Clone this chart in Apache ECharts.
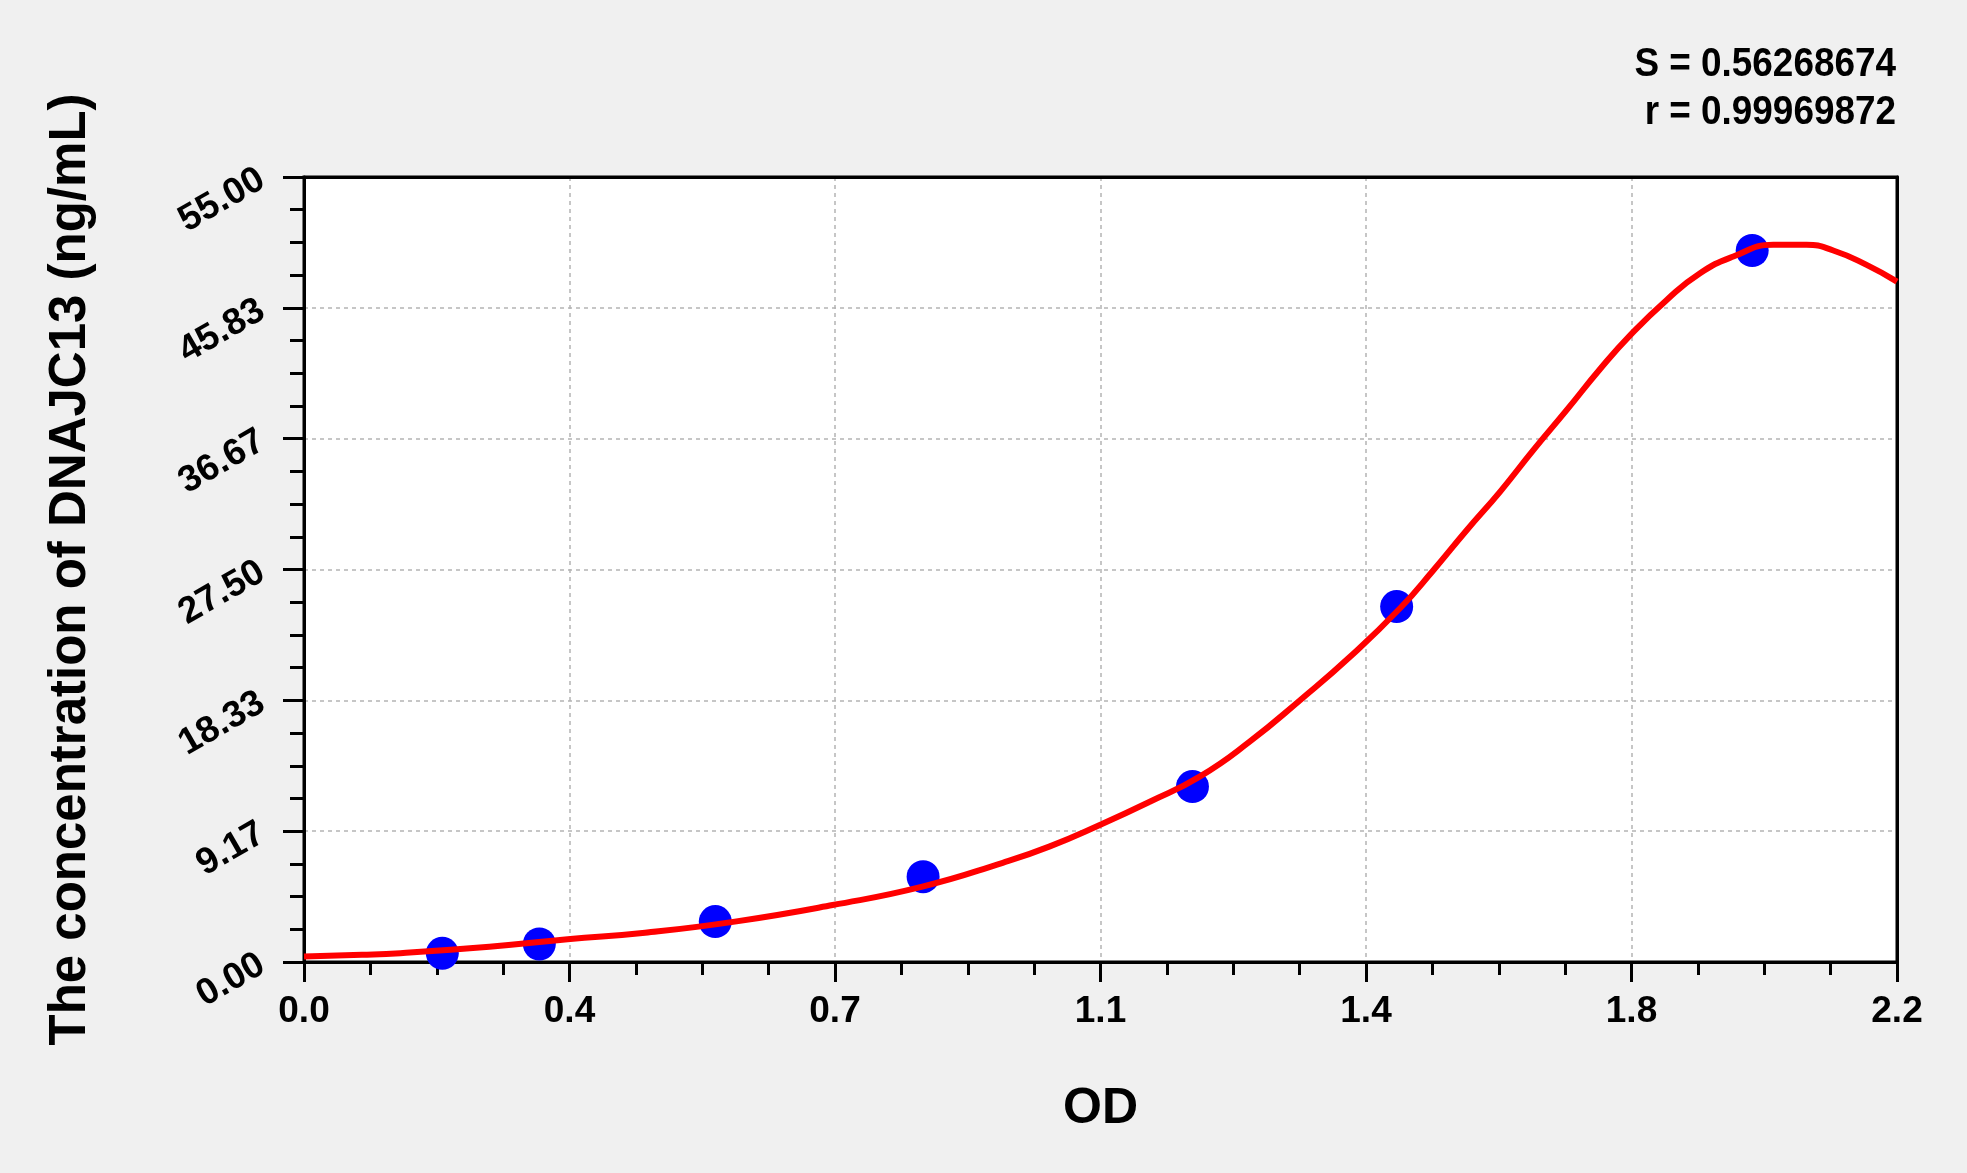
<!DOCTYPE html>
<html>
<head>
<meta charset="utf-8">
<script src="https://cdn.jsdelivr.net/npm/echarts@6/dist/echarts.min.js"></script>
<style>
html,body{margin:0;padding:0;background:#f0f0f0;}
#c{width:1967px;height:1173px;}
</style>
</head>
<body>
<div id="c"></div>
<script>
// Standard points (OD, concentration)
const pointOD = [0.191, 0.325, 0.568, 0.855, 1.227, 1.509, 2.000];
const pointConc = [0.61, 1.26, 2.83, 5.98, 12.29, 24.90, 49.85];

// Fitted curve
const curveOD = [0.000, 0.080, 0.133, 0.256, 0.364, 0.471, 0.595, 0.730, 0.854, 0.965, 1.030, 1.099, 1.168, 1.237, 1.306, 1.376, 1.445, 1.514, 1.560, 1.606, 1.652, 1.698, 1.744, 1.790, 1.832, 1.882, 1.928, 1.974, 2.029, 2.075, 2.112, 2.158, 2.200];
const curveConc = [0.38, 0.50, 0.62, 1.07, 1.59, 2.05, 2.83, 3.99, 5.28, 6.95, 8.10, 9.60, 11.23, 12.99, 15.44, 18.36, 21.40, 24.80, 27.47, 30.27, 32.96, 35.88, 38.68, 41.55, 43.94, 46.39, 48.26, 49.43, 50.25, 50.25, 49.85, 48.84, 47.67];

const xTickLabels = ['0.0', '0.4', '0.7', '1.1', '1.4', '1.8', '2.2'];
const yTickLabels = ['0.00', '9.17', '18.33', '27.50', '36.67', '45.83', '55.00'];

const xMax = 2.2, yMax = 55;
const xStep = xMax / 6, yStep = yMax / 6;

const statS = 'S = 0.56268674';
const statR = 'r = 0.99969872';

const FONT = '"Liberation Sans", Arial, Helvetica, sans-serif';

const frameAxis = {
  type: 'value', axisLine: { show: true, onZero: false, lineStyle: { color: '#000', width: 3 } },
  axisTick: { show: false }, axisLabel: { show: false }, splitLine: { show: false }
};

const chart = echarts.init(document.getElementById('c'));
chart.setOption({
  backgroundColor: '#f0f0f0',
  animation: false,
  grid: {
    left: 304, right: 70, top: 177, bottom: 211,
    show: true, backgroundColor: '#ffffff', borderColor: '#000', borderWidth: 3
  },
  xAxis: [{
    type: 'value', min: 0, max: xMax, interval: xStep,
    name: 'OD', nameLocation: 'middle', nameGap: 122,
    nameTextStyle: { fontFamily: FONT, fontWeight: 'bold', fontSize: 50, color: '#000' },
    axisLine: { show: true, onZero: false, lineStyle: { color: '#000', width: 3 } },
    axisTick: { show: true, inside: false, length: 20, lineStyle: { color: '#000', width: 3 } },
    minorTick: { show: true, splitNumber: 4, length: 13, lineStyle: { color: '#000', width: 3 } },
    axisLabel: {
      margin: 31, fontFamily: FONT, fontWeight: 'bold', fontSize: 37, color: '#000',
      formatter: v => xTickLabels[Math.round(v / xStep)]
    },
    splitLine: { show: true, showMinLine: false, showMaxLine: false,
      lineStyle: { color: '#b4b4b4', width: 1.5, type: [4, 4] } }
  }, Object.assign({ position: 'top', min: 0, max: xMax }, frameAxis)],
  yAxis: [{
    type: 'value', min: 0, max: yMax, interval: yStep,
    name: 'The concentration of DNAJC13 (ng/mL)', nameLocation: 'middle', nameGap: 208,
    nameTextStyle: { fontFamily: FONT, fontWeight: 'bold', fontSize: 51, color: '#000' },
    axisLine: { show: true, onZero: false, lineStyle: { color: '#000', width: 3 } },
    axisTick: { show: true, inside: false, length: 21, lineStyle: { color: '#000', width: 3 } },
    minorTick: { show: true, splitNumber: 4, length: 14, lineStyle: { color: '#000', width: 3 } },
    axisLabel: {
      margin: 42, rotate: 30, fontFamily: FONT, fontWeight: 'bold', fontSize: 37, color: '#000',
      formatter: v => yTickLabels[Math.round(v / yStep)]
    },
    splitLine: { show: true, showMinLine: false, showMaxLine: false,
      lineStyle: { color: '#b4b4b4', width: 1.5, type: [4, 4] } }
  }, Object.assign({ position: 'right', min: 0, max: yMax }, frameAxis)],
  graphic: [
    { type: 'text', x: 1896, y: 44, z: 100, scaleX: 0.9,
      style: { text: statS, align: 'right', verticalAlign: 'top', fontFamily: FONT, fontWeight: 'bold', fontSize: 41, fill: '#000' } },
    { type: 'text', x: 1896, y: 92, z: 100, scaleX: 0.9,
      style: { text: statR, align: 'right', verticalAlign: 'top', fontFamily: FONT, fontWeight: 'bold', fontSize: 41, fill: '#000' } }
  ],
  series: [
    {
      type: 'scatter', z: 2, xAxisIndex: 0, yAxisIndex: 0,
      data: pointOD.map((x, i) => [x, pointConc[i]]),
      symbol: 'circle', symbolSize: 33,
      itemStyle: { color: '#0000ff', opacity: 1 }
    },
    {
      type: 'line', z: 3, xAxisIndex: 0, yAxisIndex: 0,
      data: curveOD.map((x, i) => [x, curveConc[i]]),
      showSymbol: false, symbol: 'none',
      smooth: 0.5,
      lineStyle: { color: '#ff0000', width: 6 }
    }
  ]
});
</script>
</body>
</html>
